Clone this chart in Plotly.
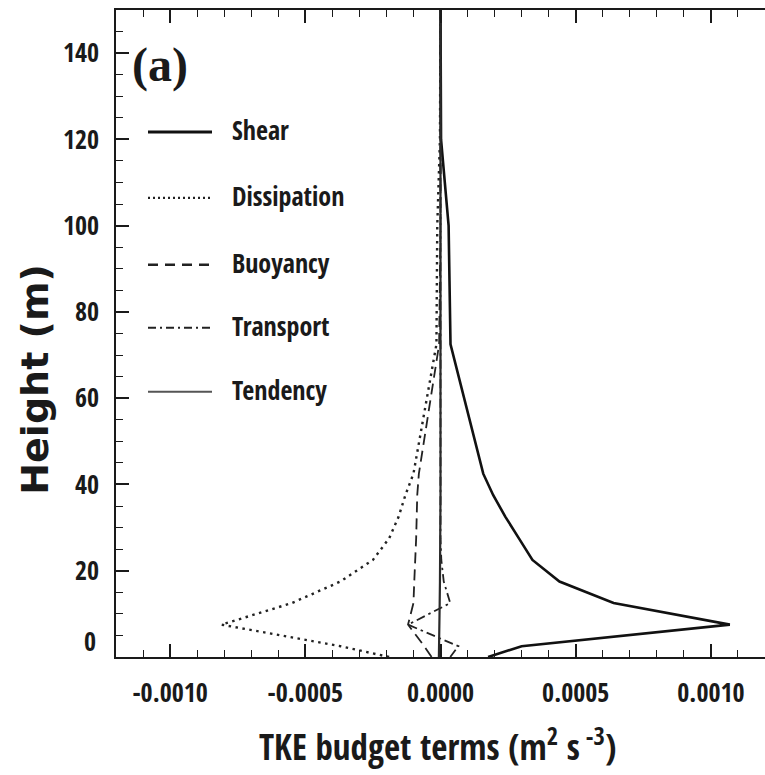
import plotly.graph_objects as go

# Model levels (m) and TKE budget terms (m^2 s^-3) at each level
heights = [0, 2.5, 7.5, 12.5, 17.5, 22.5, 27.5, 32.5, 37.5, 42.5, 72.5, 100, 120, 150]
shear = [0.000176, 0.00030, 0.00107, 0.00064, 0.00044, 0.00034, 0.00029, 0.00024,
         0.000195, 0.000158, 0.000037, 0.00003, 0.000002, 0.0]
dissipation = [-0.00019, -0.00037, -0.00081, -0.00055, -0.00037, -0.00025, -0.00019, -0.000155,
               -0.00013, -0.0001, -0.000015, -0.000012, -0.000002, 0.0]
buoyancy = [-0.000033, -0.00006, -0.00012, -0.0001, -0.000097, -0.000093, -0.00009, -0.000088,
            -0.000086, -0.00008, -0.000005, 0.0, 0.0, 0.0]
transport = [0.000036, 0.000066, -0.00012, 0.000036, 0.000012, 0.000003, 0.0, 0.0,
             0.0, 0.0, 0.0, 0.0, 0.0, 0.0]
tendency = [-0.000006, -0.000005, -0.000004, -0.000003, -0.000002, -0.000001, 0.0, 0.0,
            0.0, 0.0, 0.0, 0.0, 0.0, 0.0]

series_names = ["Shear", "Dissipation", "Buoyancy", "Transport", "Tendency"]
series_values = [shear, dissipation, buoyancy, transport, tendency]

x_tick_vals = [-0.0010, -0.0005, 0.0, 0.0005, 0.0010]
x_tick_text = ["-0.0010", "-0.0005", "0.0000", "0.0005", "0.0010"]
y_tick_vals = [20, 40, 60, 80, 100, 120, 140]
y_tick_text = ["20", "40", "60", "80", "100", "120", "140"]

# line styles per budget term
styles = [
    dict(color="#111111", width=2.6, dash="solid"),
    dict(color="#222222", width=2.4, dash="2.5px,4.5px"),
    dict(color="#222222", width=1.8, dash="11px,6px"),
    dict(color="#222222", width=1.8, dash="9px,4px,2.5px,4px"),
    dict(color="#2a2a2a", width=2.2, dash="solid"),
]

NARROW = "Open Sans Condensed, DejaVu Sans Condensed, sans-serif"
INK = "#1a1a1a"

fig = go.Figure()
for name, vals, st in zip(series_names, series_values, styles):
    fig.add_trace(go.Scatter(x=vals, y=heights, mode="lines", name=name,
                             line=st, showlegend=False, hoverinfo="skip"))

# hand-placed key in the upper-left corner of the panel
L, R, T, B = 116, 765, 10, 657.5
def px(xp):
    return (xp - L) / (R - L)
def py(yp):
    return (B - yp) / (B - T)

legend_rows = [130, 196, 263, 326, 390]
legend_styles = [
    dict(color="#111111", width=3.0, dash="solid"),
    dict(color="#222222", width=2.2, dash="2px,3px"),
    dict(color="#222222", width=2.4, dash="10px,7px"),
    dict(color="#222222", width=2.2, dash="8px,4px,2px,4px"),
    dict(color="#555555", width=2.0, dash="solid"),
]
shapes = []
annotations = []
for name, row, st in zip(series_names, legend_rows, legend_styles):
    shapes.append(dict(type="line", xref="paper", yref="paper",
                       x0=px(148), x1=px(212), y0=py(row + 2), y1=py(row + 2), line=st))
    annotations.append(dict(text=name, xref="paper", yref="paper", x=px(230), y=py(row),
                            xanchor="left", yanchor="middle", showarrow=False,
                            font=dict(family=NARROW, size=26, color=INK)))

annotations.append(dict(text="<b>(a)</b>", xref="paper", yref="paper", x=px(160), y=py(65),
                        xanchor="center", yanchor="middle", showarrow=False,
                        font=dict(family="Liberation Serif, Times New Roman, serif", size=48, color=INK)))
annotations.append(dict(text="<b>Height (m)</b>", xref="paper", yref="paper", x=px(35), y=py(380),
                        xanchor="center", yanchor="middle", textangle=-90, showarrow=False,
                        font=dict(family="DejaVu Sans, sans-serif", size=38, color=INK)))
annotations.append(dict(text="TKE budget terms (m<sup>2</sup> s<sup> -3</sup>)", xref="paper", yref="paper",
                        x=px(437), y=py(745), xanchor="center", yanchor="middle", showarrow=False,
                        font=dict(family=NARROW, size=35, color=INK)))
annotations.append(dict(text="0", xref="paper", yref="y", x=px(98), y=3.7,
                        xanchor="right", yanchor="middle", showarrow=False,
                        font=dict(family=NARROW, size=26, color=INK)))

tick_common = dict(ticks="inside", ticklen=13, tickwidth=1.6, tickcolor=INK,
                   showgrid=False, zeroline=False,
                   tickfont=dict(family=NARROW, size=26, color=INK))
y_minor = dict(tick0=0, dtick=5, ticks="inside", ticklen=7, tickwidth=1.3,
               tickcolor=INK, showgrid=False)

fig.update_layout(
    width=765, height=775,
    margin=dict(l=L, r=765 - R, t=T, b=775 - B),
    paper_bgcolor="white", plot_bgcolor="white",
    xaxis=dict(range=[-0.0012, 0.0012], tickvals=x_tick_vals, ticktext=x_tick_text,
               showline=True, linecolor=INK, linewidth=1.6, mirror="ticks",
               minor=dict(tick0=0, dtick=0.0001, ticks="inside", ticklen=7, tickwidth=1.3,
                          tickcolor=INK, showgrid=False),
               ticklabelstandoff=12, **tick_common),
    yaxis=dict(range=[0, 150], tickvals=y_tick_vals, ticktext=y_tick_text,
               showline=True, linecolor=INK, linewidth=1.6, mirror=False,
               minor=y_minor, ticklabelstandoff=10, **tick_common),
    # right-hand tick marks only; the panel's right border falls at the page edge
    yaxis2=dict(range=[0, 150], tickvals=y_tick_vals, overlaying="y", side="right",
                showline=False, showticklabels=False, minor=y_minor, **tick_common),
    shapes=shapes, annotations=annotations,
)

fig.write_html("out.html")
